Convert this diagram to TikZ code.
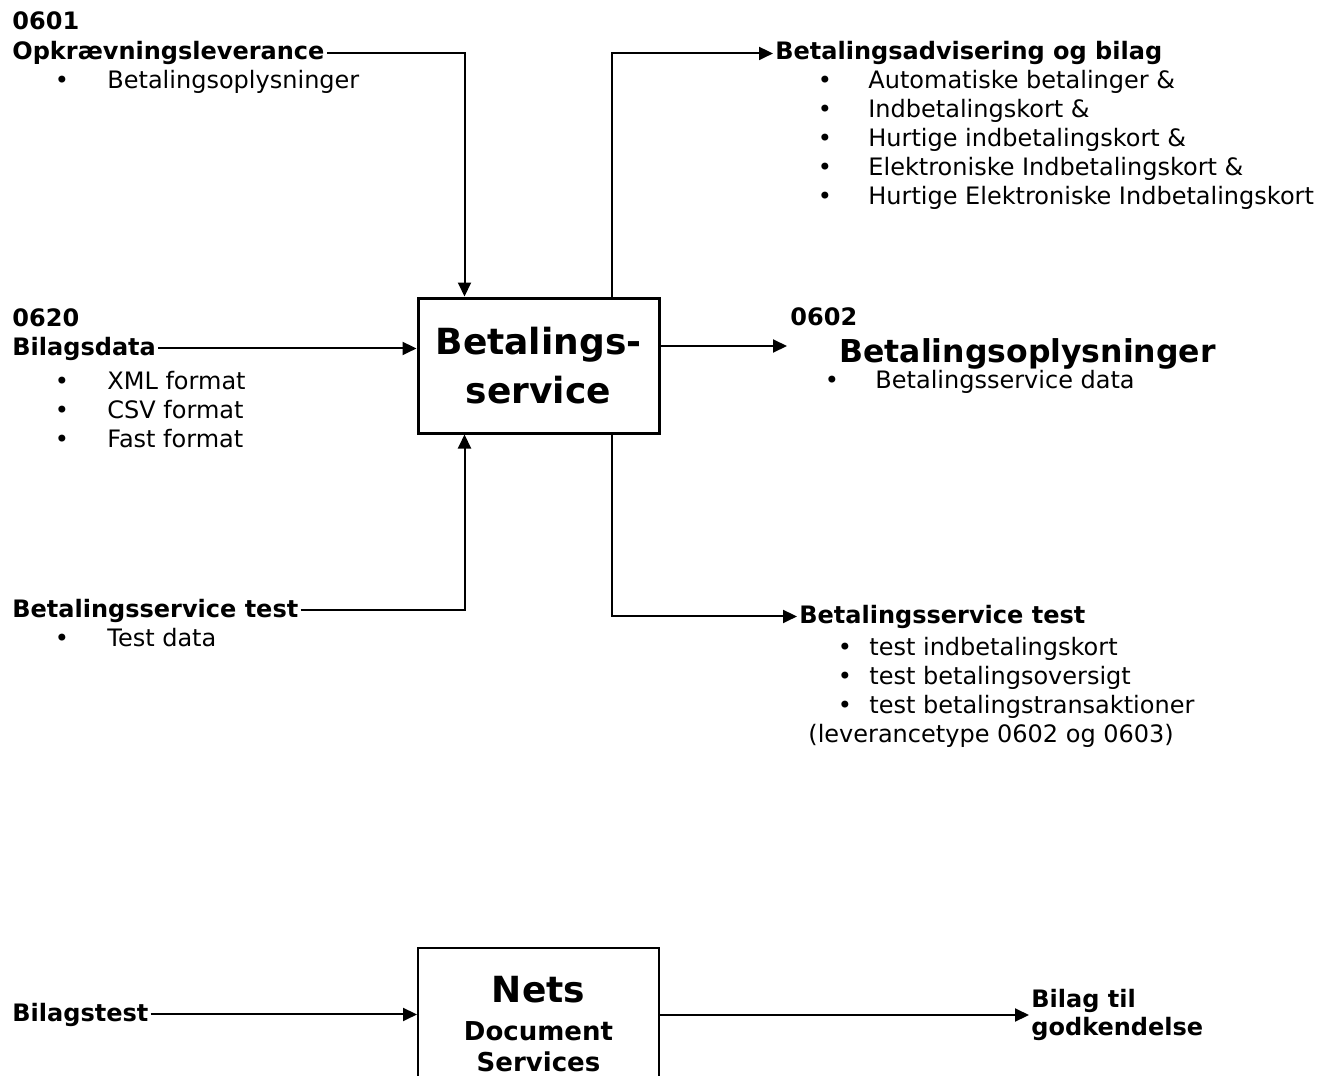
\documentclass[tikz,border=0pt]{standalone}
\usepackage{fontspec}
\setmainfont{DejaVu Sans}
\usepackage{tikz}
\usetikzlibrary{positioning,arrows.meta}

\tikzset{
  hdr/.style={font=\fontsize{12}{14}\selectfont\bfseries, inner sep=1pt, anchor=base west},
  itm/.style={font=\fontsize{12}{14}\selectfont, inner sep=0pt, anchor=base west},
  dot/.style={font=\fontsize{12}{14}\selectfont, inner sep=0pt, anchor=base},
  arr/.style={-{Triangle[length=7pt,width=6.5pt]}, line width=1pt},
  proc/.style={draw, line width=1.5pt, minimum width=120.5pt, minimum height=67.5pt, inner sep=0pt, align=center, font=\fontsize{18}{24.5}\selectfont\bfseries}
}

\begin{document}
\begin{tikzpicture}[x=0.5pt, y=-0.5pt]
\useasboundingbox (0,0) rectangle (1321,1075);

% main box
\node[proc] (bs) at (538.5,365.5) {Betalings-\\service};

% inputs
\node[hdr] (n0601) at (10,30) {0601};
\node[hdr] (opkr) at (10,60) {Opkrævningsleverance};
\node[dot] (d1) at (62,89) {\textbullet};
\node[itm] (i1) at (107,89) {Betalingsoplysninger};

\node[hdr] (n0620) at (10,326) {0620};
\node[hdr] (bilagsdata) at (10,355) {Bilagsdata};
\node[dot] (d2) at (62,389) {\textbullet};
\node[itm] (i2) at (107,389) {XML format};
\node[dot] (d3) at (62,418) {\textbullet};
\node[itm] (i3) at (107,418) {CSV format};
\node[dot] (d4) at (62,447) {\textbullet};
\node[itm] (i4) at (107,447) {Fast format};

\node[hdr] (bstestin) at (10,617) {Betalingsservice test\ };
\node[dot] (d5) at (62,646) {\textbullet};
\node[itm] (i5) at (107,646) {Test data};

% outputs
\node[hdr] (advis) at (773,60) {Betalingsadvisering og bilag};
\node[dot] (d6) at (825,89) {\textbullet};
\node[itm] (i6) at (868,89) {Automatiske betalinger \&};
\node[dot] (d7) at (825,118) {\textbullet};
\node[itm] (i7) at (868,118) {Indbetalingskort \&};
\node[dot] (d8) at (825,147) {\textbullet};
\node[itm] (i8) at (868,147) {Hurtige indbetalingskort \&};
\node[dot] (d9) at (825,176) {\textbullet};
\node[itm] (i9) at (868,176) {Elektroniske Indbetalingskort \&};
\node[dot] (d10) at (825,205) {\textbullet};
\node[itm] (i10) at (868,205) {Hurtige Elektroniske Indbetalingskort};

\coordinate (c0602) at (787,346);
\node[hdr] (n0602) at (788,325) {0602};
\node[hdr, font=\fontsize{15.75}{18}\selectfont\bfseries] (bsopl) at (837,362) {Betalingsoplysninger};
\node[dot] (d11) at (832,388) {\textbullet};
\node[itm] (i11) at (875,388) {Betalingsservice data};

\node[hdr] (bstestout) at (797,623) {Betalingsservice test};
\node[dot] (d12) at (845,655) {\textbullet};
\node[itm] (i12) at (869,655) {test indbetalingskort};
\node[dot] (d13) at (845,684) {\textbullet};
\node[itm] (i13) at (869,684) {test betalingsoversigt};
\node[dot] (d14) at (845,713) {\textbullet};
\node[itm] (i14) at (869,713) {test betalingstransaktioner};
\node[itm] (i15) at (808,742) {(leverancetype 0602 og 0603)};

% connectors
\draw[arr] (opkr.east) -| ([xshift=24pt]bs.north west);
\draw[arr] (bilagsdata.east) -- (bilagsdata.east -| bs.west);
\draw[arr] (bstestin.east) -| ([xshift=24pt]bs.south west);
\draw[arr] ([xshift=-24.5pt]bs.north east) |- (advis.west);
\draw[arr] (bs.east |- c0602) -- (c0602);
\draw[arr] ([xshift=-24.5pt]bs.south east) |- (bstestout.west);

% document services
\node[draw, line width=1pt, minimum width=120.5pt, minimum height=78pt, inner sep=0pt, anchor=north] (nets) at (538.5,947) {};
\node[font=\fontsize{18}{20}\selectfont\bfseries, anchor=base, inner sep=0pt] (t1) at (538.5,1002) {Nets};
\node[font=\fontsize{13}{15}\selectfont\bfseries, anchor=base, inner sep=0pt] (t2) at (538.5,1040) {Document};
\node[font=\fontsize{13}{15}\selectfont\bfseries, anchor=base, inner sep=0pt] (t3) at (538.5,1071) {Services};

\node[hdr] (bilagstest) at (10,1021) {Bilagstest};
\node[hdr, align=left, anchor=west, font=\fontsize{12}{14}\selectfont\bfseries] (godk) at (1029,1015) {Bilag til\\godkendelse};
\draw[arr] (bilagstest.east) -- (bilagstest.east -| nets.west);
\draw[arr] (nets.east |- godk.west) -- (godk.west);
\end{tikzpicture}
\end{document}
